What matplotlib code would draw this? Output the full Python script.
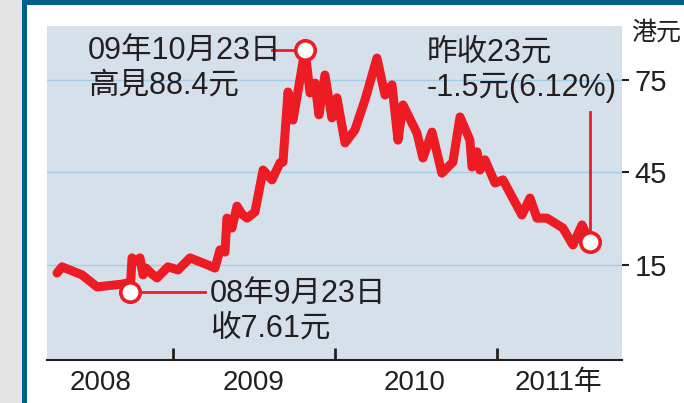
import matplotlib
matplotlib.use("Agg")
import matplotlib.pyplot as plt
from matplotlib.patches import Rectangle

plt.rcParams['font.family'] = ['Liberation Sans Narrow', 'Liberation Sans', 'Noto Sans CJK TC']

# 股價走勢 (年份小數, 港元)
years = [2008.284, 2008.315, 2008.438, 2008.531, 2008.685, 2008.722, 2008.735,
         2008.747, 2008.765, 2008.796, 2008.815, 2008.833, 2008.870, 2008.901,
         2008.969, 2009.031, 2009.105, 2009.216, 2009.259, 2009.290, 2009.321,
         2009.333, 2009.364, 2009.395, 2009.426, 2009.457, 2009.506, 2009.556,
         2009.611, 2009.660, 2009.679, 2009.710, 2009.741, 2009.815, 2009.846,
         2009.877, 2009.901, 2009.938, 2009.981, 2010.012, 2010.062, 2010.123,
         2010.185, 2010.259, 2010.309, 2010.352, 2010.389, 2010.420, 2010.506,
         2010.543, 2010.599, 2010.660, 2010.728, 2010.772, 2010.833, 2010.846,
         2010.877, 2010.895, 2010.926, 2010.988, 2011.037, 2011.154, 2011.204,
         2011.247, 2011.309, 2011.407, 2011.469, 2011.525, 2011.574]
prices = [12.4, 14.4, 11.8, 7.9, 8.8, 9.2, 6.4,
          17.3, 16.0, 17.3, 11.8, 14.0, 12.1, 10.8,
          14.4, 13.4, 17.3, 15.0, 14.0, 19.9, 19.2,
          30.2, 27.0, 34.1, 31.5, 30.2, 32.2, 45.8,
          42.6, 48.1, 48.4, 71.1, 62.0, 84.7, 70.8,
          74.0, 63.7, 76.6, 62.7, 69.2, 54.6, 58.8,
          68.5, 82.1, 70.1, 73.4, 55.5, 66.9, 57.8,
          49.7, 58.1, 44.8, 48.4, 63.0, 55.5, 46.8,
          51.7, 45.8, 49.1, 41.6, 42.6, 31.2, 36.7,
          30.2, 30.2, 27.0, 21.5, 28.0, 22.5]

y_ticks = [15, 45, 75]
year_bounds = [2009, 2010, 2011]
year_label_pos = [2008.55, 2009.5, 2010.49, 2011.38]
year_labels = ['2008', '2009', '2010', '2011年']

low_idx = 6
high_idx = 33
last_idx = len(prices) - 1

RED = '#ed1c24'
BLUE = '#00608c'
INK = '#231f20'

fig = plt.figure(figsize=(6.84, 4.03), dpi=100)
fig.patch.set_facecolor('white')

# 左邊灰條和深藍邊框
fig.add_artist(Rectangle((0, 0), 22 / 684, 1, transform=fig.transFigure,
                         facecolor='#e4e4e4', edgecolor='none'))
fig.add_artist(Rectangle((22 / 684, 0), 5 / 684, 1, transform=fig.transFigure,
                         facecolor=BLUE, edgecolor='none'))
fig.add_artist(Rectangle((22 / 684, 1 - 5 / 403), 1, 5 / 403, transform=fig.transFigure,
                         facecolor=BLUE, edgecolor='none'))

ax = fig.add_axes([47 / 684, 43 / 403, 575 / 684, 334 / 403])
ax.set_facecolor('#d6e0ea')
ax.set_xlim(2008.222, 2011.772)
ax.set_ylim(-15.8, 92.5)

for v in y_ticks:
    ax.axhline(v, color='#a6cbe6', lw=1, zorder=1)

ax.plot(years, prices, color=RED, lw=6.5, solid_joinstyle='round',
        solid_capstyle='round', zorder=3)

# 標註
ax.plot([years[low_idx], 2009.2], [prices[low_idx]] * 2, color=RED, lw=2, zorder=3)
ax.plot([2009.61, years[high_idx]], [prices[high_idx]] * 2, color=RED, lw=2, zorder=3)
ax.plot([years[last_idx]] * 2, [prices[last_idx], 64.6], color=RED, lw=2, zorder=3)
for i in (low_idx, high_idx, last_idx):
    ax.plot(years[i], prices[i], 'o', ms=14, mfc='white', mec=RED, mew=2.6, zorder=4)

tfont = dict(fontsize=22, color=INK, va='top', ha='left', linespacing=1.2)
ax.text(2008.475, 89.3, '09年10月23日\n高見88.4元', **tfont)
ax.text(2009.228, 10.6, '08年9月23日\n收7.61元', **tfont)
ax.text(2010.568, 88.6, '昨收23元\n-1.5元(6.12%)', **tfont)

ax.yaxis.tick_right()
ax.set_yticks(y_ticks)
ax.tick_params(axis='y', length=5, width=1.5, pad=4, labelsize=21, colors=INK)
ax.set_xticks(year_bounds)
ax.set_xticklabels([''] * len(year_bounds))
ax.tick_params(axis='x', which='major', direction='in', length=9, width=2, color=INK)
ax.set_xticks(year_label_pos, minor=True)
ax.set_xticklabels(year_labels, minor=True)
ax.tick_params(axis='x', which='minor', length=0, pad=7, labelsize=20, labelcolor=INK)

for s in ('top', 'left', 'right'):
    ax.spines[s].set_visible(False)
ax.spines['bottom'].set_color(INK)
ax.spines['bottom'].set_linewidth(1.5)

fig.text(631 / 684, 1 - 33 / 403, '港元', fontsize=18, color=INK, va='center', ha='left')

fig.savefig('out.png', dpi=100)
